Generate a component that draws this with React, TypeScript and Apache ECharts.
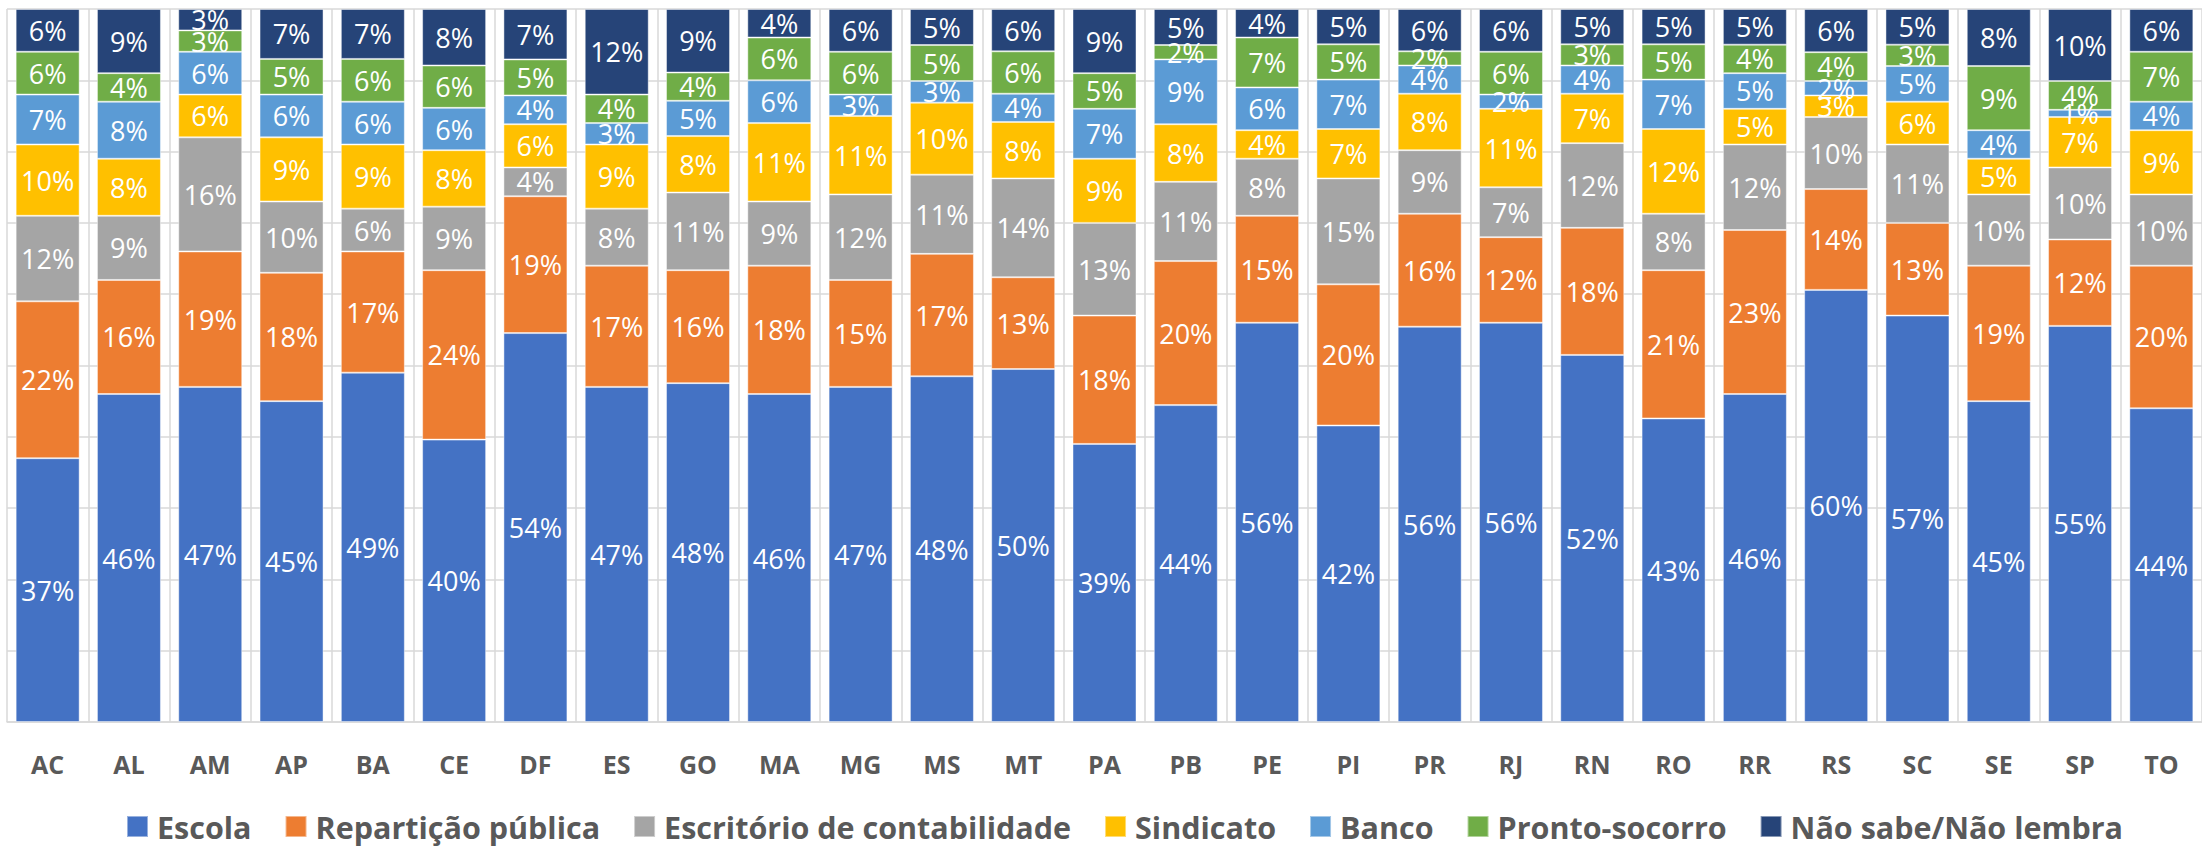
import React, { useEffect, useRef } from 'react';
import * as echarts from 'echarts';

const categories = ['AC', 'AL', 'AM', 'AP', 'BA', 'CE', 'DF', 'ES', 'GO', 'MA', 'MG', 'MS', 'MT', 'PA', 'PB', 'PE', 'PI', 'PR', 'RJ', 'RN', 'RO', 'RR', 'RS', 'SC', 'SE', 'SP', 'TO'];

const escola = [37, 46, 47, 45, 49, 40, 54, 47, 48, 46, 47, 48, 50, 39, 44, 56, 42, 56, 56, 52, 43, 46, 60, 57, 45, 55, 44];
const reparticao = [22, 16, 19, 18, 17, 24, 19, 17, 16, 18, 15, 17, 13, 18, 20, 15, 20, 16, 12, 18, 21, 23, 14, 13, 19, 12, 20];
const escritorio = [12, 9, 16, 10, 6, 9, 4, 8, 11, 9, 12, 11, 14, 13, 11, 8, 15, 9, 7, 12, 8, 12, 10, 11, 10, 10, 10];
const sindicato = [10, 8, 6, 9, 9, 8, 6, 9, 8, 11, 11, 10, 8, 9, 8, 4, 7, 8, 11, 7, 12, 5, 3, 6, 5, 7, 9];
const banco = [7, 8, 6, 6, 6, 6, 4, 3, 5, 6, 3, 3, 4, 7, 9, 6, 7, 4, 2, 4, 7, 5, 2, 5, 4, 1, 4];
const prontoSocorro = [6, 4, 3, 5, 6, 6, 5, 4, 4, 6, 6, 5, 6, 5, 2, 7, 5, 2, 6, 3, 5, 4, 4, 3, 9, 4, 7];
const naoSabe = [6, 9, 3, 7, 7, 8, 7, 12, 9, 4, 6, 5, 6, 9, 5, 4, 5, 6, 6, 5, 5, 5, 6, 5, 8, 10, 6];

const seriesNames = ['Escola', 'Repartição pública', 'Escritório de contabilidade', 'Sindicato', 'Banco', 'Pronto-socorro', 'Não sabe/Não lembra'];
const seriesColors = ['#4472C4', '#ED7D31', '#A5A5A5', '#FFC000', '#5B9BD5', '#70AD47', '#264478'];

export default function App() {
  const ref = useRef<HTMLDivElement>(null);

  useEffect(() => {
    document.body.style.margin = '0';
    const chart = echarts.init(ref.current as HTMLDivElement, null, { renderer: 'svg' });
    const raw = [escola, reparticao, escritorio, sindicato, banco, prontoSocorro, naoSabe];
    const totals = categories.map((_, i) => raw.reduce((s, arr) => s + arr[i], 0));

    const series = raw.map((arr, k) => ({
      name: seriesNames[k],
      type: 'bar',
      stack: 'total',
      barWidth: 64,
      data: arr.map((v, i) => (v / totals[i]) * 100),
      itemStyle: { color: seriesColors[k], borderColor: 'rgba(255,255,255,0.45)', borderWidth: 1 },
      label: {
        show: true,
        position: 'inside',
        color: '#ffffff',
        fontSize: 27,
        fontFamily: 'Open Sans',
        formatter: (p: any) => raw[k][p.dataIndex] + '%',
      },
      emphasis: { disabled: true },
    }));

    chart.setOption({
      animation: false,
      color: seriesColors,
      grid: { left: 7, top: 9, width: 2211, height: 713 },
      legend: {
        left: 121,
        top: 806,
        icon: 'rect',
        itemWidth: 21,
        itemHeight: 21,
        itemGap: 33,
        textStyle: { fontSize: 30.5, lineHeight: 30, fontWeight: 'bold', color: '#595959', fontFamily: 'Open Sans', padding: [0, 0, 0, 4] },
      },
      xAxis: {
        type: 'category',
        data: categories,
        axisTick: { show: false },
        axisLine: { lineStyle: { color: '#D9D9D9', width: 1.5 } },
        splitLine: { show: true, interval: 0, lineStyle: { color: '#D9D9D9', width: 1.5 } },
        axisLabel: { interval: 0, fontSize: 25, fontWeight: 'bold', color: '#595959', fontFamily: 'Open Sans', margin: 29 },
      },
      yAxis: {
        type: 'value',
        min: 0,
        max: 100,
        interval: 10,
        axisLabel: { show: false },
        axisLine: { show: false },
        axisTick: { show: false },
        splitLine: { lineStyle: { color: '#D9D9D9', width: 1.5 } },
      },
      series,
    });
    return () => chart.dispose();
  }, []);

  return <div ref={ref} style={{ width: 2202, height: 846 }} />;
}
